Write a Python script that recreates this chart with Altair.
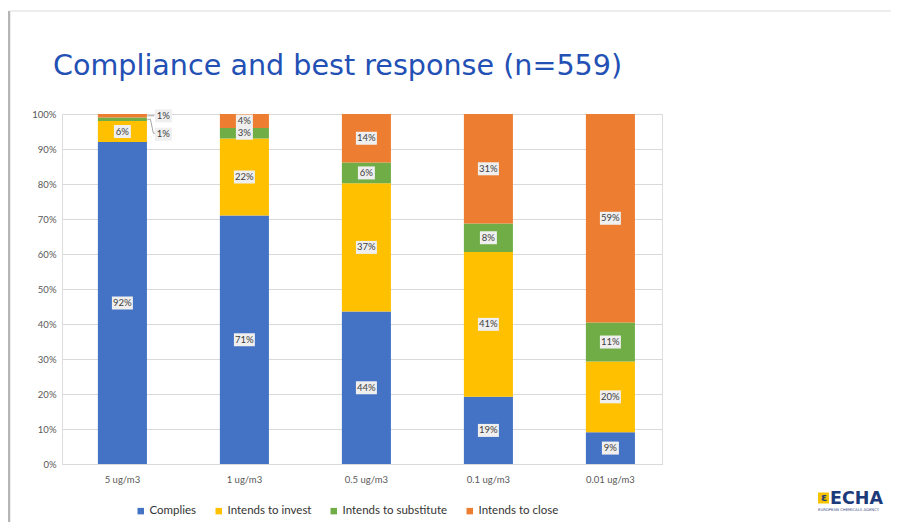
import altair as alt
import pandas as pd

# ---------------- data ----------------
doses = ["5 ug/m3", "1 ug/m3", "0.5 ug/m3", "0.1 ug/m3", "0.01 ug/m3"]
categories = ["Complies", "Intends to invest", "Intends to substitute", "Intends to close"]
complies = [92, 71, 44, 19, 9]
invest = [6, 22, 37, 41, 20]
substitute = [1, 3, 6, 8, 11]
close = [1, 4, 14, 31, 59]
colors = ["#4472C4", "#FFC000", "#70AD47", "#ED7D31"]
y_ticks = [0, 0.1, 0.2, 0.3, 0.4, 0.5, 0.6, 0.7, 0.8, 0.9, 1.0]
title_text = "Compliance and best response (n=559)"

series = [complies, invest, substitute, close]
rows = []
for i, d in enumerate(doses):
    for j, c in enumerate(categories):
        rows.append({"dose": d, "category": c, "value": series[j][i], "order": j})
df = pd.DataFrame(rows)

FONT = "Lato"
LABEL_GRAY = "#595959"
TEXT_DARK = "#404040"
BOX = "#efefef"

xscale = alt.Scale(domain=doses, paddingInner=0.598, paddingOuter=0.258, align=0.57)
xaxis = alt.Axis(title=None, labelAngle=0, domain=True, domainColor="#d9d9d9",
                 ticks=False, labelPadding=10, labelFont=FONT, labelFontSize=9.5,
                 labelColor=LABEL_GRAY, grid=False)
yscale = alt.Scale(domain=[0, 1], nice=False)
yaxis = alt.Axis(title=None, format=".0%", values=y_ticks, domain=False, ticks=False,
                 labelPadding=6, labelFont=FONT, labelFontSize=9.5, labelColor=LABEL_GRAY,
                 gridColor="#d9d9d9", gridWidth=1)


def X():
    return alt.X("dose:N", sort=doses, scale=xscale, axis=xaxis, bandPosition=0.5)


def X2():
    return alt.X2("dose:N", bandPosition=0.5)


def Y(field):
    return alt.Y(field, scale=yscale, axis=yaxis)


base = alt.Chart(df).transform_stack(
    stack="value", groupby=["dose"], as_=["y0", "y1"], offset="normalize",
    sort=[alt.SortField("order", order="ascending")]
).transform_calculate(
    mid="(datum.y0 + datum.y1) / 2",
    label="datum.value + '%'"
)

bars = base.mark_bar(strokeWidth=0).encode(
    x=alt.X("dose:N", sort=doses, scale=xscale, axis=xaxis),
    y=Y("y0:Q"),
    y2="y1:Q",
    color=alt.Color("category:N", sort=categories,
                    scale=alt.Scale(domain=categories, range=colors),
                    legend=alt.Legend(title=None, orient="none", legendX=73, legendY=391,
                                      direction="horizontal", symbolType="square",
                                      symbolSize=42, symbolStrokeWidth=0,
                                      labelFont=FONT, labelFontSize=11.5,
                                      labelColor="#333333", columnPadding=16,
                                      labelOffset=3)),
)

path_wide = "M-1.05,-0.65H1.05V0.65H-1.05Z"
path_narrow = "M-0.85,-0.65H0.85V0.65H-0.85Z"

inside = base.transform_filter("datum.value >= 2")
inside_boxes = inside.mark_point(filled=True, opacity=1, color=BOX, size=400, strokeWidth=0).encode(
    x=X(), y=Y("mid:Q"),
    shape=alt.condition("datum.value >= 10", alt.value(path_wide), alt.value(path_narrow)),
)
inside_text = inside.mark_text(font=FONT, fontSize=9.5, color=TEXT_DARK).encode(
    x=X(), y=Y("mid:Q"), text="label:N"
)

out_close = base.transform_filter("datum.value < 2 && datum.category == 'Intends to close'")
out_sub = base.transform_filter("datum.value < 2 && datum.category == 'Intends to substitute'")

oc_box = out_close.mark_point(filled=True, opacity=1, color=BOX, size=400, strokeWidth=0,
                              shape=path_narrow, xOffset=41).encode(x=X(), y=Y("mid:Q"))
oc_text = out_close.mark_text(font=FONT, fontSize=9.5, color=TEXT_DARK, dx=41).encode(
    x=X(), y=Y("mid:Q"), text="label:N")
oc_line = out_close.mark_rule(color="#a6a6a6", strokeWidth=1, xOffset=25, x2Offset=32).encode(
    x=X(), x2=X2(), y=Y("mid:Q"))

os_box = out_sub.mark_point(filled=True, opacity=1, color=BOX, size=400, strokeWidth=0,
                            shape=path_narrow, xOffset=41, yOffset=15).encode(x=X(), y=Y("mid:Q"))
os_text = out_sub.mark_text(font=FONT, fontSize=9.5, color=TEXT_DARK, dx=41, dy=15).encode(
    x=X(), y=Y("mid:Q"), text="label:N")
os_line1 = out_sub.mark_rule(color="#a6a6a6", strokeWidth=1, xOffset=25, x2Offset=28).encode(
    x=X(), x2=X2(), y=Y("mid:Q"))
os_line2 = out_sub.mark_rule(color="#a6a6a6", strokeWidth=1, xOffset=28, x2Offset=31,
                             y2Offset=14).encode(x=X(), x2=X2(), y=Y("mid:Q"), y2="mid:Q")
os_line3 = out_sub.mark_rule(color="#a6a6a6", strokeWidth=1, xOffset=31, x2Offset=33,
                             yOffset=14, y2Offset=14).encode(x=X(), x2=X2(), y=Y("mid:Q"), y2="mid:Q")

# ---------------- slide decorations ----------------
one = pd.DataFrame({"k": [0]})
title_mark = alt.Chart(one).mark_text(text=title_text, font="DejaVu Sans", fontSize=28.6,
                                      color="#2350b4", align="left", baseline="alphabetic").encode(
    x=alt.value(-9), y=alt.value(-39))
frame_left = alt.Chart(one).mark_rule(color="#b5b5b5", strokeWidth=2.5).encode(
    x=alt.value(-53), y=alt.value(-103), y2=alt.value(410))
frame_top = alt.Chart(one).mark_rule(color="#dcdcdc", strokeWidth=1).encode(
    x=alt.value(-53), x2=alt.value(830), y=alt.value(-103))

logo_sq = alt.Chart(one).mark_point(filled=True, opacity=1, color="#F5C400", shape="square",
                                    size=121, strokeWidth=0).encode(
    x=alt.value(761.5), y=alt.value(384))
logo_mark = alt.Chart(one).mark_text(text="ɛ", font="DejaVu Sans", fontSize=11, fontWeight="bold",
                                     color="#1d3a7a").encode(x=alt.value(762), y=alt.value(384))
logo_txt = alt.Chart(one).mark_text(text="ECHA", font="DejaVu Sans", fontSize=17.5, fontWeight="bold",
                                    color="#1d3a7a", align="left", baseline="alphabetic").encode(
    x=alt.value(768), y=alt.value(390))
logo_sub = alt.Chart(one).mark_text(text="EUROPEAN CHEMICALS AGENCY", font="DejaVu Sans", fontSize=3.8,
                                    color="#3a4a8a", align="left", baseline="alphabetic").encode(
    x=alt.value(756), y=alt.value(397))

chart = alt.layer(
    bars, inside_boxes, inside_text,
    oc_line, oc_box, oc_text,
    os_line1, os_line2, os_line3, os_box, os_text,
    title_mark, frame_left, frame_top, logo_sq, logo_mark, logo_txt, logo_sub,
).properties(
    width=600, height=350,
    autosize=alt.AutoSizeParams(type="none"),
    padding={"left": 54, "top": 106, "right": 229, "bottom": 58},
).configure_view(stroke=None).configure(background="white")

chart.save("out.html", embed_options={"renderer": "svg", "actions": False})
